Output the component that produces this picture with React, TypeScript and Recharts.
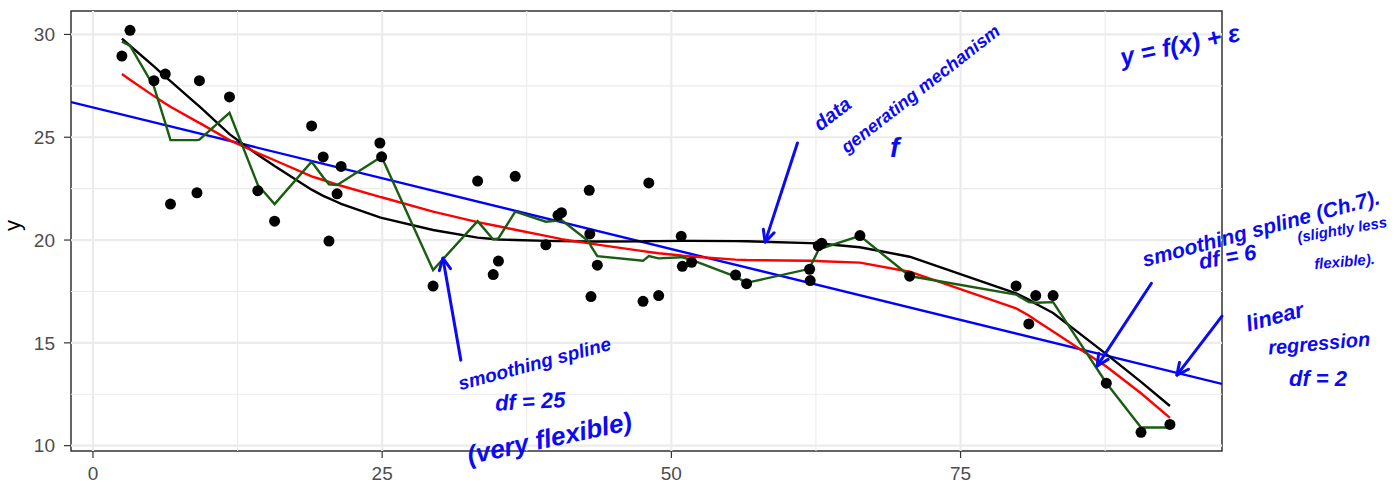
import React from 'react';
import {
  ComposedChart,
  Line,
  Scatter,
  XAxis,
  YAxis,
  ReferenceLine,
  ReferenceArea,
  ReferenceDot,
} from 'recharts';

// ---- data ----
const xs = [2.5, 3.2, 5.27, 6.25, 6.7, 8.99, 9.2, 11.8, 14.25, 15.7, 18.9, 19.9, 20.4, 21.1, 21.45, 24.8, 24.95, 29.4, 33.25, 34.6, 35.05, 36.5, 39.15, 40.2, 40.5, 42.9, 42.95, 43.05, 43.6, 47.55, 48.05, 48.9, 50.85, 50.95, 51.75, 55.55, 56.5, 61.95, 62.0, 62.7, 63.0, 66.3, 70.6, 79.8, 80.9, 81.5, 83.0, 87.6, 90.6, 93.1];
const ys = [28.95, 30.2, 27.75, 28.07, 21.75, 22.3, 27.75, 26.96, 22.4, 20.92, 25.55, 24.04, 19.95, 22.25, 23.58, 24.72, 24.05, 17.76, 22.87, 18.32, 18.98, 23.1, 19.77, 21.2, 21.33, 22.42, 20.3, 17.25, 18.78, 17.02, 22.78, 17.3, 20.18, 18.72, 18.92, 18.3, 17.88, 18.58, 18.03, 19.72, 19.84, 20.22, 18.24, 17.77, 15.92, 17.3, 17.3, 13.04, 10.65, 11.03];
const trueF = [29.8, 29.45, 28.45, 27.95, 27.73, 26.6, 26.5, 25.15, 24.15, 23.6, 22.45, 22.15, 22.03, 21.85, 21.76, 21.1, 21.08, 20.49, 20.12, 20.05, 20.03, 20.0, 19.96, 19.95, 19.95, 19.93, 19.93, 19.93, 19.93, 19.94, 19.95, 19.95, 19.96, 19.96, 19.96, 19.95, 19.94, 19.85, 19.85, 19.83, 19.82, 19.65, 19.19, 17.41, 17.1, 16.9, 16.45, 14.45, 13.1, 11.93];
const spline6 = [28.08, 27.8, 27.0, 26.64, 26.48, 25.76, 25.7, 24.86, 24.23, 23.88, 23.1, 22.92, 22.83, 22.7, 22.64, 22.1, 22.08, 21.38, 20.87, 20.72, 20.67, 20.5, 20.2, 20.08, 20.04, 19.84, 19.84, 19.83, 19.78, 19.46, 19.42, 19.36, 19.25, 19.24, 19.2, 19.05, 19.03, 18.99, 18.99, 18.98, 18.97, 18.9, 18.46, 16.68, 16.33, 16.1, 15.55, 13.85, 12.55, 11.35];
const spline25 = [29.65, 29.45, 27.46, 25.7, 24.86, 24.86, 24.88, 26.19, 22.68, 21.75, 23.81, 23.05, 22.71, 22.68, 22.8, 24.0, 24.05, 18.54, 20.92, 20.03, 20.08, 21.38, 20.89, 20.95, 20.97, 19.92, 19.85, 19.7, 19.22, 18.99, 19.22, 19.11, 19.16, 19.16, 19.03, 18.22, 17.92, 18.6, 18.7, 19.5, 19.6, 20.2, 18.25, 17.35, 16.98, 16.95, 16.98, 13.05, 10.88, 10.88];

const lmIntercept = 26.45;
const lmSlope = -0.1378;

const xDomain: [number, number] = [-1.9, 97.6];
const yDomain: [number, number] = [9.74, 31.14];
const xTicks = [0, 25, 50, 75];
const yTicks = [10, 15, 20, 25, 30];
const xMinor = [12.5, 37.5, 62.5, 87.5];
const yMinor = [12.5, 17.5, 22.5, 27.5];

// handwritten annotations (data coordinates)
const noteTexts = ['data', 'generating mechanism', 'f', 'y = f(x) + ε', 'smoothing spline (Ch.7).', 'df = 6', '(slightly less', 'flexible).', 'linear', 'regression', 'df = 2', 'smoothing spline', 'df = 25', '(very flexible)'];
const noteX = [64.0, 71.6, 69.3, 94.0, 101.0, 98.1, 108.0, 108.2, 102.2, 106.0, 105.9, 38.2, 37.8, 39.5];
const noteY = [26.08, 27.3, 24.38, 29.39, 20.49, 19.1, 20.45, 18.9, 16.2, 14.9, 13.19, 13.92, 12.07, 10.27];
const noteAngle = [-38, -38, 0, -12, -15, -10, -10, -5, -15, -5, 0, -15, -3, -12];
const noteSize = [20, 18, 28, 25, 21, 22, 15, 15, 22, 20, 22, 19, 22, 26];

const arrowFrom = [[60.9, 24.72], [31.8, 14.16], [91.5, 17.9], [97.6, 16.3]];
const arrowTo = [[58.1, 19.9], [30.25, 19.12], [86.8, 13.87], [93.7, 13.43]];

const rows = xs.map((x, i) => ({ x, y: ys[i], f: trueF[i], s6: spline6[i], s25: spline25[i] }));
const lmRows = xDomain.map((x) => ({ x, lm: lmIntercept + lmSlope * x }));

const BLUE = '#0a0af5';
const FONT = '"Liberation Sans", Arial, sans-serif';

const Arrow = (p: any) => {
  const { x1, y1, x2, y2 } = p;
  const ang = Math.atan2(y2 - y1, x2 - x1);
  const L = 13;
  const a1 = ang + Math.PI - 0.45;
  const a2 = ang + Math.PI + 0.45;
  return (
    <g>
      <line x1={x1} y1={y1} x2={x2} y2={y2} stroke={BLUE} strokeWidth={3} strokeLinecap="round" />
      <polyline
        points={`${x2 + L * Math.cos(a1)},${y2 + L * Math.sin(a1)} ${x2},${y2} ${x2 + L * Math.cos(a2)},${y2 + L * Math.sin(a2)}`}
        fill="none"
        stroke={BLUE}
        strokeWidth={3}
        strokeLinecap="round"
        strokeLinejoin="round"
      />
    </g>
  );
};

export default function App() {
  return (
    <div style={{ position: 'absolute', left: 0, top: 0, background: '#fff' }}>
      <ComposedChart
        width={1395}
        height={487}
        data={rows}
        margin={{ top: 11, right: 173, bottom: 0, left: 0 }}
      >
        {xMinor.map((v) => (
          <ReferenceLine key={'xm' + v} x={v} stroke="#ebebeb" strokeWidth={1.1} />
        ))}
        {yMinor.map((v) => (
          <ReferenceLine key={'ym' + v} y={v} stroke="#ebebeb" strokeWidth={1.1} />
        ))}
        {xTicks.map((v) => (
          <ReferenceLine key={'xM' + v} x={v} stroke="#ebebeb" strokeWidth={2.2} />
        ))}
        {yTicks.map((v) => (
          <ReferenceLine key={'yM' + v} y={v} stroke="#ebebeb" strokeWidth={2.2} />
        ))}
        <XAxis
          type="number"
          dataKey="x"
          domain={xDomain}
          ticks={xTicks}
          interval={0}
          allowDataOverflow
          height={36}
          axisLine={false}
          tickSize={7}
          tickMargin={9}
          tickLine={{ stroke: '#333333', strokeWidth: 1.2 }}
          tick={{ fill: '#4d4d4d', fontSize: 19, fontFamily: FONT }}
        />
        <YAxis
          type="number"
          domain={yDomain}
          ticks={yTicks}
          interval={0}
          allowDataOverflow
          width={71}
          axisLine={false}
          tickSize={7}
          tickMargin={9}
          tickLine={{ stroke: '#333333', strokeWidth: 1.2 }}
          tick={{ fill: '#4d4d4d', fontSize: 19, fontFamily: FONT }}
          label={{ value: 'y', angle: -90, position: 'insideLeft', offset: 12, fill: '#000', fontSize: 22, fontFamily: FONT }}
        />
        <Line data={lmRows} dataKey="lm" type="linear" stroke="#0000ff" strokeWidth={2.4} dot={false} isAnimationActive={false} />
        <Line dataKey="f" type="linear" stroke="#000000" strokeWidth={2.4} dot={false} isAnimationActive={false} />
        <Line dataKey="s6" type="linear" stroke="#ff0000" strokeWidth={2.4} dot={false} isAnimationActive={false} />
        <Line dataKey="s25" type="linear" stroke="#1a5c12" strokeWidth={2.4} dot={false} isAnimationActive={false} />
        <Scatter
          dataKey="y"
          isAnimationActive={false}
          shape={(p: any) => <circle cx={p.cx} cy={p.cy} r={5.5} fill="#000" />}
        />
        <ReferenceArea
          x1={xDomain[0]}
          x2={xDomain[1]}
          y1={yDomain[0]}
          y2={yDomain[1]}
          fill="none"
          fillOpacity={0}
          stroke="#333333"
          strokeOpacity={1}
          strokeWidth={1.5}
          ifOverflow="visible"
        />
        {arrowFrom.map((a, i) => (
          <ReferenceLine
            key={'ar' + i}
            segment={[{ x: a[0], y: a[1] }, { x: arrowTo[i][0], y: arrowTo[i][1] }]}
            ifOverflow="visible"
            shape={(p: any) => <Arrow {...p} />}
          />
        ))}
        {noteTexts.map((t, i) => (
          <ReferenceDot
            key={'nt' + i}
            x={noteX[i]}
            y={noteY[i]}
            r={0}
            ifOverflow="visible"
            shape={(p: any) => (
              <text
                x={p.cx}
                y={p.cy}
                transform={`rotate(${noteAngle[i]} ${p.cx} ${p.cy})`}
                textAnchor="middle"
                dominantBaseline="middle"
                fill={BLUE}
                fontSize={noteSize[i]}
                fontStyle="italic"
                fontWeight={600}
                fontFamily={FONT}
              >
                {t}
              </text>
            )}
          />
        ))}
      </ComposedChart>
    </div>
  );
}
